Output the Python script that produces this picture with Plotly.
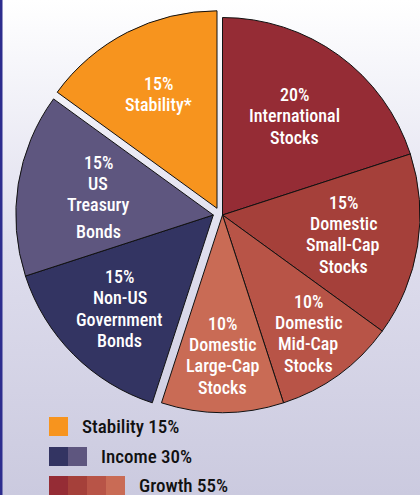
import math
import plotly.graph_objects as go

# ---------------- data ----------------
slice_names = ["International Stocks", "Domestic Small-Cap Stocks", "Domestic Mid-Cap Stocks",
               "Domestic Large-Cap Stocks", "Non-US Government Bonds", "US Treasury Bonds",
               "Stability*"]
slice_labels = [["20%", "International", "Stocks"],
                ["15%", "Domestic", "Small-Cap", "Stocks"],
                ["10%", "Domestic", "Mid-Cap", "Stocks"],
                ["10%", "Domestic", "Large-Cap", "Stocks"],
                ["15%", "Non-US", "Government", "Bonds"],
                ["15%", "US", "Treasury", "Bonds"],
                ["15%", "Stability*"]]
slice_values = [20, 15, 10, 10, 15, 15, 15]
slice_groups = ["Growth", "Growth", "Growth", "Growth", "Income", "Income", "Stability"]
slice_colors = ["#952c35", "#a5403a", "#b85447", "#c96b55", "#333462", "#5e567f", "#f7941e"]

group_names = ["Stability", "Income", "Growth"]
group_values = [15, 30, 55]

# ---------------- layout constants ----------------
W, H = 420, 495
R = 197.5
group_centers = {"Growth": (222.5, 215.0), "Income": (213.3, 215.0), "Stability": (217.0, 208.3)}
label_rfrac = [0.62, 0.62, 0.74, 0.71, 0.67, 0.59, 0.65]
LINE = 21.3
extra_gap = {(5, 3): 5}   # slightly larger gap before the last line of "US Treasury Bonds"
FONT = "Roboto Condensed, Liberation Sans, Arial, sans-serif"

fig = go.Figure()

# gradient background
fig.add_trace(go.Scatter(
    x=[0, 1, 1, 0, 0], y=[0, 0, 1, 1, 0], mode="lines", fill="toself",
    line=dict(width=0), hoverinfo="skip", showlegend=False,
    fillgradient=dict(type="vertical",
                      colorscale=[[0, "#cbcadf"], [0.5, "#dedded"], [0.88, "#f7f7fb"], [1, "#ffffff"]]),
))

total = sum(slice_values)
annotations = []
for g in group_names:
    idx = [i for i, s in enumerate(slice_groups) if s == g]
    before = sum(slice_values[:idx[0]])
    after = total - before - sum(slice_values[i] for i in idx)
    vals, cols, lw, names = [], [], [], []
    if before:
        vals.append(before); cols.append("rgba(0,0,0,0)"); lw.append(0); names.append("_b")
    for i in idx:
        vals.append(slice_values[i]); cols.append(slice_colors[i]); lw.append(1); names.append(slice_names[i])
    if after:
        vals.append(after); cols.append("rgba(0,0,0,0)"); lw.append(0); names.append("_a")
    cx, cy = group_centers[g]
    fig.add_trace(go.Pie(
        values=vals, labels=names, sort=False, direction="clockwise", rotation=0,
        marker=dict(colors=cols, line=dict(color="#111111", width=lw)),
        textinfo="none", hoverinfo="skip", showlegend=False,
        domain=dict(x=[(cx - R) / W, min(1, (cx + R) / W)], y=[1 - (cy + R) / H, 1 - (cy - R) / H]),
    ))
    # labels, one annotation per line
    for i in idx:
        cum = sum(slice_values[:i]) + slice_values[i] / 2
        th = cum / total * 2 * math.pi
        r = label_rfrac[i] * R
        px, py = cx + r * math.sin(th), cy - r * math.cos(th)
        lines = slice_labels[i]
        n = len(lines)
        offs = []
        acc = 0.0
        for j in range(n):
            if j > 0:
                acc += LINE + extra_gap.get((i, j), 0)
            offs.append(acc)
        mid = (offs[0] + offs[-1]) / 2
        for j, t in enumerate(lines):
            ly = py + offs[j] - mid
            annotations.append(dict(x=px / W, y=1 - ly / H, xref="paper", yref="paper",
                                    text=t, showarrow=False, xanchor="center", yanchor="middle",
                                    font=dict(family=FONT, size=18, color="white", weight=500)))

# legend (swatches + text)
shapes = []
sw = 19
rows_top = [417, 447, 476]
for k, g in enumerate(group_names):
    order = [i for i, s in enumerate(slice_groups) if s == g]
    x0 = 49
    for j, i in enumerate(order):
        shapes.append(dict(type="rect", xref="paper", yref="paper",
                           x0=(x0 + j * sw) / W, x1=(x0 + (j + 1) * sw) / W,
                           y0=1 - (rows_top[k] + sw) / H, y1=1 - rows_top[k] / H,
                           fillcolor=slice_colors[i], line=dict(width=0), layer="above"))
    tx = x0 + len(order) * sw + 12
    annotations.append(dict(x=tx / W, y=1 - (rows_top[k] + sw / 2 - 0.5) / H, xref="paper", yref="paper",
                            text=f"{g} {group_values[k]}%", showarrow=False,
                            xanchor="left", yanchor="middle",
                            font=dict(family=FONT, size=19, color="#111111", weight=500)))

# left border
shapes.append(dict(type="rect", xref="paper", yref="paper", x0=0, x1=2.5 / W, y0=0, y1=1,
                   fillcolor="#2d2d8e", line=dict(width=0), layer="above"))

fig.update_layout(
    width=W, height=H, margin=dict(l=0, r=0, t=0, b=0),
    paper_bgcolor="white", plot_bgcolor="rgba(0,0,0,0)",
    xaxis=dict(range=[0, 1], visible=False, fixedrange=True),
    yaxis=dict(range=[0, 1], visible=False, fixedrange=True),
    shapes=shapes, annotations=annotations, showlegend=False,
)

fig.write_html("out.html")
